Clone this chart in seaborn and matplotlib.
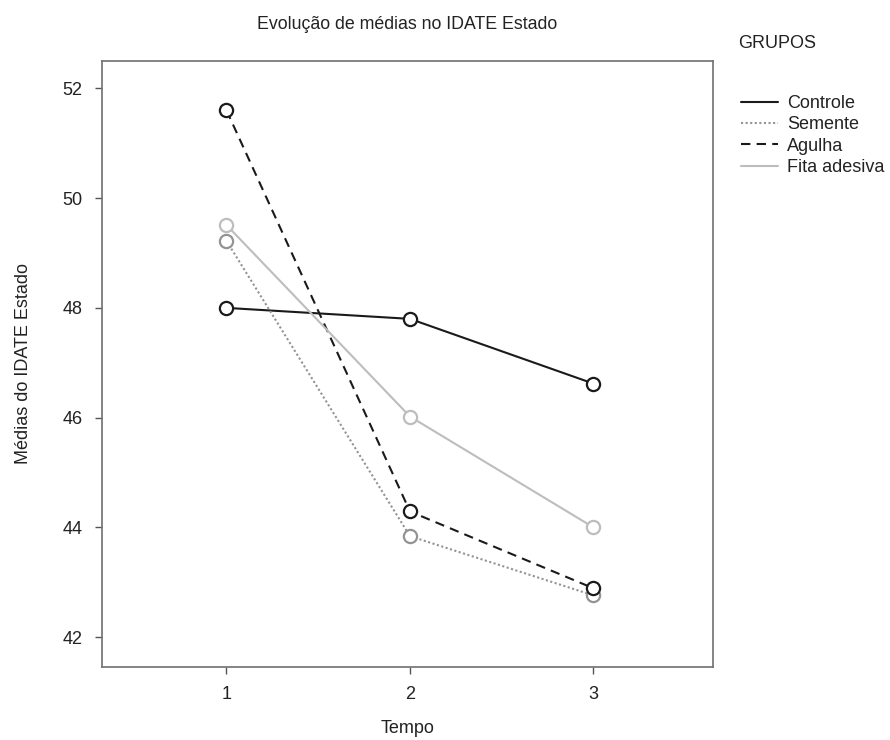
import pandas as pd
import seaborn as sns
import matplotlib.pyplot as plt
from matplotlib.lines import Line2D

tempos = [1, 2, 3]
grupos = ['Controle', 'Semente', 'Agulha', 'Fita adesiva']
controle = [48.0, 47.8, 46.62]
semente = [49.22, 43.84, 42.76]
agulha = [51.6, 44.29, 42.89]
fita = [49.51, 46.02, 44.0]

cores = {'Controle': '#1a1a1a', 'Semente': '#939393',
         'Agulha': '#1a1a1a', 'Fita adesiva': '#bdbdbd'}
tracos = {'Controle': '', 'Semente': (1, 1.2),
          'Agulha': (4.5, 3), 'Fita adesiva': ''}

df = pd.DataFrame({
    'Tempo': tempos * 4,
    'Grupo': [g for g in grupos for _ in tempos],
    'Media': controle + semente + agulha + fita,
})

sns.set_style('white')
plt.rcParams['font.family'] = ['Liberation Sans', 'DejaVu Sans']

fig = plt.figure(figsize=(8.9, 7.4), dpi=100)
ax = fig.add_axes([0.1143, 0.099, 0.8008 - 0.1143, 0.9176 - 0.099])

sns.lineplot(data=df, x='Tempo', y='Media', hue='Grupo', style='Grupo',
             hue_order=grupos, style_order=grupos, palette=cores,
             dashes=tracos, markers={g: 'o' for g in grupos},
             linewidth=1.5, markersize=9.5, legend=False, ax=ax)

for line in ax.lines:
    line.set_markerfacecolor('white')
    line.set_markeredgecolor(line.get_color())
    line.set_markeredgewidth(1.6)

ax.set_xlim(0.32, 3.65)
ax.set_ylim(41.46, 52.5)
ax.set_xticks([1, 2, 3])
ax.set_yticks([42, 44, 46, 48, 50, 52])
ax.tick_params(axis='both', direction='out', length=5, width=1,
               color='#555555', labelsize=13, labelcolor='#222222', pad=9,
               bottom=True, left=True)
for sp in ax.spines.values():
    sp.set_color('#707070')
    sp.set_linewidth(1.2)

ax.set_xlabel('Tempo', fontsize=13, color='#222222', labelpad=12)
ax.set_ylabel('Médias do IDATE Estado', fontsize=13, color='#222222', labelpad=22)
ax.set_title('Evolução de médias no IDATE Estado', fontsize=12.8,
             color='#222222', pad=23)

handles = []
for g in grupos:
    h = Line2D([], [], color=cores[g], linewidth=1.5)
    if tracos[g]:
        h.set_dashes(tracos[g])
    handles.append(h)

fig.text(738 / 890, 1 - 44 / 740, 'GRUPOS', fontsize=13, color='#222222',
         ha='left', va='center')
leg = fig.legend(handles, grupos, loc='upper left',
                 bbox_to_anchor=(741 / 890, 1 - 95 / 740), frameon=False,
                 fontsize=13, handlelength=2.05, handletextpad=0.5,
                 labelspacing=0.24, borderpad=0, borderaxespad=0)
for t in leg.get_texts():
    t.set_color('#222222')

fig.savefig('out.png', dpi=100)
